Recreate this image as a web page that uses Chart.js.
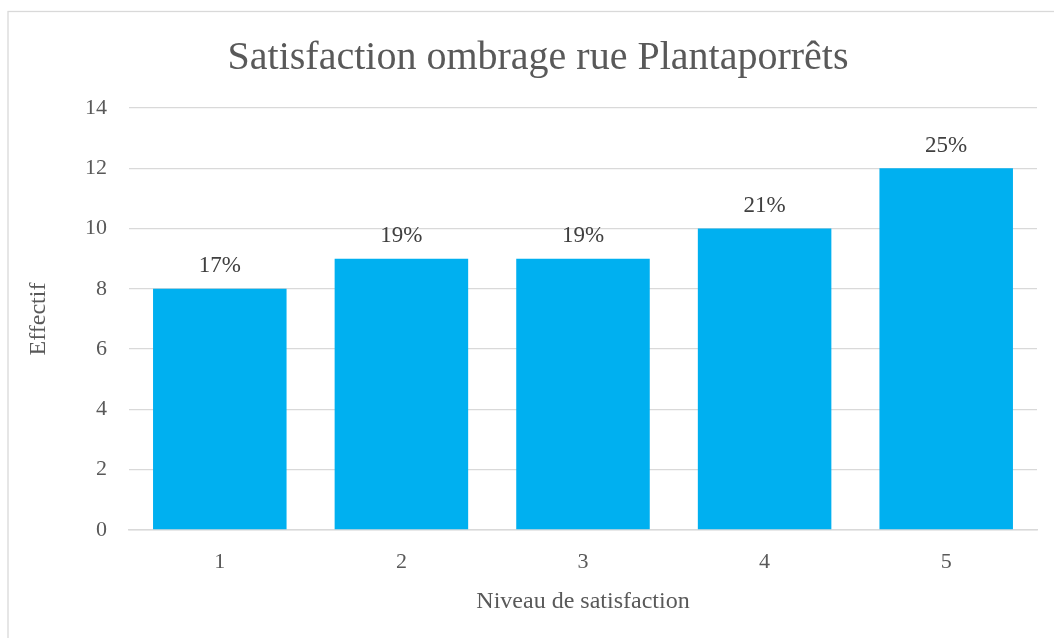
<!DOCTYPE html>
<html>
<head>
<meta charset="utf-8">
<script src="https://cdn.jsdelivr.net/npm/chart.js@4/dist/chart.umd.min.js"></script>
<style>
  html, body { margin: 0; padding: 0; background: #fff; }
  #wrap { width: 1054px; height: 638px; }
</style>
</head>
<body>
<div id="wrap"><canvas id="barChart" width="1054" height="638"></canvas></div>
<script>
const niveaux = ['1', '2', '3', '4', '5'];
const effectifs = [8, 9, 9, 10, 12];
const yTicks = [0, 2, 4, 6, 8, 10, 12, 14];

const serif = '"Liberation Serif", "DejaVu Serif", serif';
const total = effectifs.reduce((a, b) => a + b, 0);

// cadre gris autour du graphique, titre centré sur le cadre
const cadre = {
    id: 'cadre',
    afterLayout(chart) {
        const t = chart.titleBlock;
        if (t) {
            t.left = 22;
            t.right = chart.width;
            t.width = t.right - t.left;
        }
    },
    beforeDraw(chart) {
        const c = chart.ctx;
        c.save();
        c.fillStyle = '#ffffff';
        c.fillRect(0, 0, chart.width, chart.height);
        c.strokeStyle = '#d9d9d9';
        c.lineWidth = 1.3;
        c.strokeRect(8, 11.5, 1100, 700);
        c.restore();
    }
};

// pourcentage au-dessus de chaque barre
const pourcentages = {
    id: 'pourcentages',
    afterDatasetsDraw(chart) {
        const c = chart.ctx;
        const meta = chart.getDatasetMeta(0);
        c.save();
        c.font = '23px ' + serif;
        c.fillStyle = '#404040';
        c.textAlign = 'center';
        c.textBaseline = 'bottom';
        meta.data.forEach((bar, i) => {
            const pct = Math.round(effectifs[i] / total * 100) + '%';
            c.fillText(pct, bar.x, bar.y - 11);
        });
        c.restore();
    }
};

const ctx = document.getElementById('barChart').getContext('2d');
const barChart = new Chart(ctx, {
    type: 'bar',
    data: {
        labels: niveaux,
        datasets: [{
            label: 'Effectif',
            data: effectifs,
            backgroundColor: '#00b0f0',
            categoryPercentage: 1,
            barPercentage: 1 / 1.36
        }]
    },
    options: {
        responsive: false,
        animation: false,
        devicePixelRatio: 1,
        layout: {
            padding: { left: 22, right: 17, top: 15, bottom: 22 }
        },
        plugins: {
            legend: { display: false },
            tooltip: { enabled: false },
            title: {
                display: true,
                text: 'Satisfaction ombrage rue Plantaporrêts',
                color: '#595959',
                font: { family: serif, size: 40, weight: 'normal' },
                padding: { top: 19, bottom: 26 }
            }
        },
        scales: {
            x: {
                grid: { display: false },
                border: { color: '#d9d9d9', width: 1.5 },
                ticks: {
                    color: '#595959',
                    font: { family: serif, size: 22 },
                    padding: 11
                },
                title: {
                    display: true,
                    text: 'Niveau de satisfaction',
                    color: '#595959',
                    font: { family: serif, size: 24 },
                    padding: { top: 0, bottom: 0 }
                },
                afterFit(scale) { scale.height = 86; }
            },
            y: {
                min: 0,
                max: 14,
                afterBuildTicks(scale) {
                    scale.ticks = yTicks.map(v => ({ value: v }));
                },
                grid: { color: '#d9d9d9', lineWidth: 1.3, drawTicks: false },
                border: { display: false },
                ticks: {
                    color: '#595959',
                    font: { family: serif, size: 22 },
                    padding: 22
                },
                title: {
                    display: true,
                    text: 'Effectif',
                    color: '#595959',
                    font: { family: serif, size: 24 },
                    padding: { top: 2, bottom: 0 }
                },
                afterFit(scale) { scale.width = 107; }
            }
        }
    },
    plugins: [cadre, pourcentages]
});
</script>
</body>
</html>
